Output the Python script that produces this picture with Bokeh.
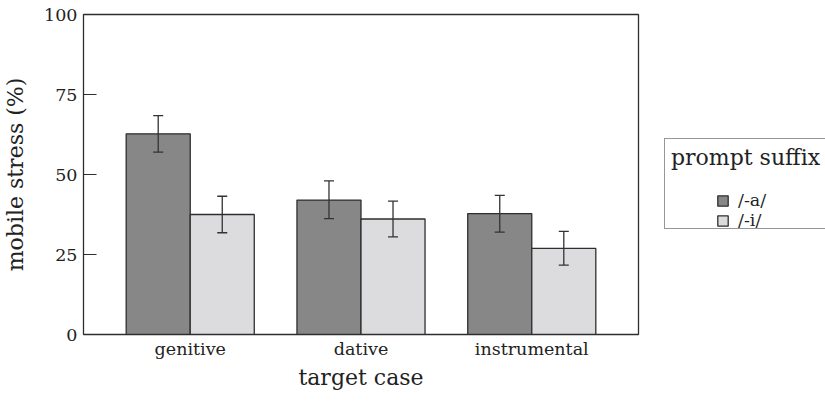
import numpy as np
from bokeh.plotting import figure
from bokeh.layouts import row
from bokeh.models import (ColumnDataSource, Range1d, FixedTicker, Whisker, TeeHead,
                          Legend, LegendItem)
from bokeh.embed import file_html
from bokeh.resources import INLINE

# ---- data ----
categories = ["genitive", "dative", "instrumental"]
suffixes = ["/-a/", "/-i/"]
legend_title = "prompt suffix"
a_mean = [62.7, 42.0, 37.8]
a_lower = [57.0, 36.2, 32.0]
a_upper = [68.4, 48.0, 43.5]
i_mean = [37.5, 36.1, 26.9]
i_lower = [31.8, 30.5, 21.7]
i_upper = [43.2, 41.7, 32.2]
y_ticks = [0, 25, 50, 75, 100]

FONT = "DejaVu Serif"
TICK_SIZE = "17.5px"
TITLE_SIZE = "22px"
TXT = "#222222"
EDGE = "#2e2e2e"
DARK = "#878787"
LIGHT = "#dcdcde"

H = 405
p = figure(width=660, height=H, output_backend="svg", toolbar_location=None,
           x_range=Range1d(0.375, 3.625), y_range=Range1d(0, 100),
           min_border_left=83, min_border_right=22, min_border_top=14,
           min_border_bottom=71, background_fill_color="white",
           border_fill_color="white")

pos = np.arange(1, len(categories) + 1)
dodge = 0.1875
bw = 0.375

src_a = ColumnDataSource(dict(x=pos - dodge, top=a_mean, lo=a_lower, hi=a_upper))
src_i = ColumnDataSource(dict(x=pos + dodge, top=i_mean, lo=i_lower, hi=i_upper))

bar_style = dict(line_color=EDGE, line_width=1.3)
p.vbar(x="x", top="top", width=bw, source=src_a, fill_color=DARK, **bar_style)
p.vbar(x="x", top="top", width=bw, source=src_i, fill_color=LIGHT, **bar_style)

for src in (src_a, src_i):
    w = Whisker(base="x", upper="hi", lower="lo", source=src, level="overlay",
                line_color="#333333", line_width=1.3,
                upper_head=TeeHead(size=10, line_color="#333333", line_width=1.3),
                lower_head=TeeHead(size=10, line_color="#333333", line_width=1.3))
    p.add_layout(w)

# ---- axes ----
p.xgrid.visible = False
p.ygrid.visible = False
p.outline_line_color = EDGE
p.outline_line_width = 1.3
p.outline_line_alpha = 1.0

p.yaxis.ticker = FixedTicker(ticks=y_ticks)
p.yaxis.major_tick_in = 13
p.yaxis.major_tick_out = 0
p.yaxis.minor_tick_line_color = None
p.yaxis.major_tick_line_color = EDGE
p.yaxis.major_tick_line_width = 1.2
p.yaxis.axis_line_color = EDGE
p.yaxis.major_label_standoff = 6
p.yaxis.axis_label = "mobile stress (%)"
p.yaxis.axis_label_standoff = 13

p.xaxis.ticker = FixedTicker(ticks=list(pos))
p.xaxis.major_label_overrides = {int(k): c for k, c in zip(pos, categories)}
p.xaxis.major_tick_in = 0
p.xaxis.major_tick_out = 0
p.xaxis.minor_tick_line_color = None
p.xaxis.axis_line_color = EDGE
p.xaxis.major_label_standoff = 4
p.xaxis.axis_label = "target case"
p.xaxis.axis_label_standoff = 3

for ax in (p.xaxis[0], p.yaxis[0]):
    ax.major_label_text_font = FONT
    ax.major_label_text_font_size = TICK_SIZE
    ax.major_label_text_color = TXT
    ax.axis_label_text_font = FONT
    ax.axis_label_text_font_size = TITLE_SIZE
    ax.axis_label_text_font_style = "normal"
    ax.axis_label_text_color = TXT

# ---- legend panel (separate figure to the right) ----
q = figure(width=165, height=H, output_backend="svg", toolbar_location=None,
           x_range=Range1d(0, 1), y_range=Range1d(0, 1),
           x_axis_location=None, y_axis_location=None,
           min_border_left=4, min_border_right=0, min_border_top=14,
           min_border_bottom=71, outline_line_color=None,
           background_fill_color="white", border_fill_color="white")
q.xgrid.visible = False
q.ygrid.visible = False

# legend swatches: hidden renderers sharing the bar data and styling
la = q.vbar(x="x", top="top", width=bw, source=src_a, fill_color=DARK,
            visible=False, **bar_style)
li = q.vbar(x="x", top="top", width=bw, source=src_i, fill_color=LIGHT,
            visible=False, **bar_style)
d1 = q.vbar(x=[], top=[], width=0.1, fill_alpha=0, line_alpha=0)
d2 = q.vbar(x=[], top=[], width=0.1, fill_alpha=0, line_alpha=0)

leg_box = Legend(items=[LegendItem(label=" ", renderers=[d1]),
                        LegendItem(label=" ", renderers=[d2])],
                 location=(0, 105), title=legend_title,
                 title_text_font=FONT, title_text_font_size=TITLE_SIZE,
                 title_text_font_style="normal", title_text_color=TXT,
                 title_standoff=20, padding=6, margin=0, spacing=0,
                 glyph_height=16, glyph_width=10, label_height=16, label_width=170,
                 label_text_font_size="8px",
                 border_line_color=EDGE, border_line_width=1.2,
                 background_fill_color="white", background_fill_alpha=1.0)
q.add_layout(leg_box)

leg_items = Legend(items=[LegendItem(label=suffixes[0], renderers=[la]),
                          LegendItem(label=suffixes[1], renderers=[li])],
                   location=(52, 104), padding=0, margin=0, spacing=0,
                   glyph_height=13, glyph_width=13, label_height=19,
                   label_standoff=9,
                   label_text_font=FONT, label_text_font_size=TICK_SIZE,
                   label_text_color=TXT,
                   border_line_color=None, background_fill_alpha=0)
q.add_layout(leg_items)

layout = row(p, q)
open("out.html", "w").write(file_html(layout, INLINE))
